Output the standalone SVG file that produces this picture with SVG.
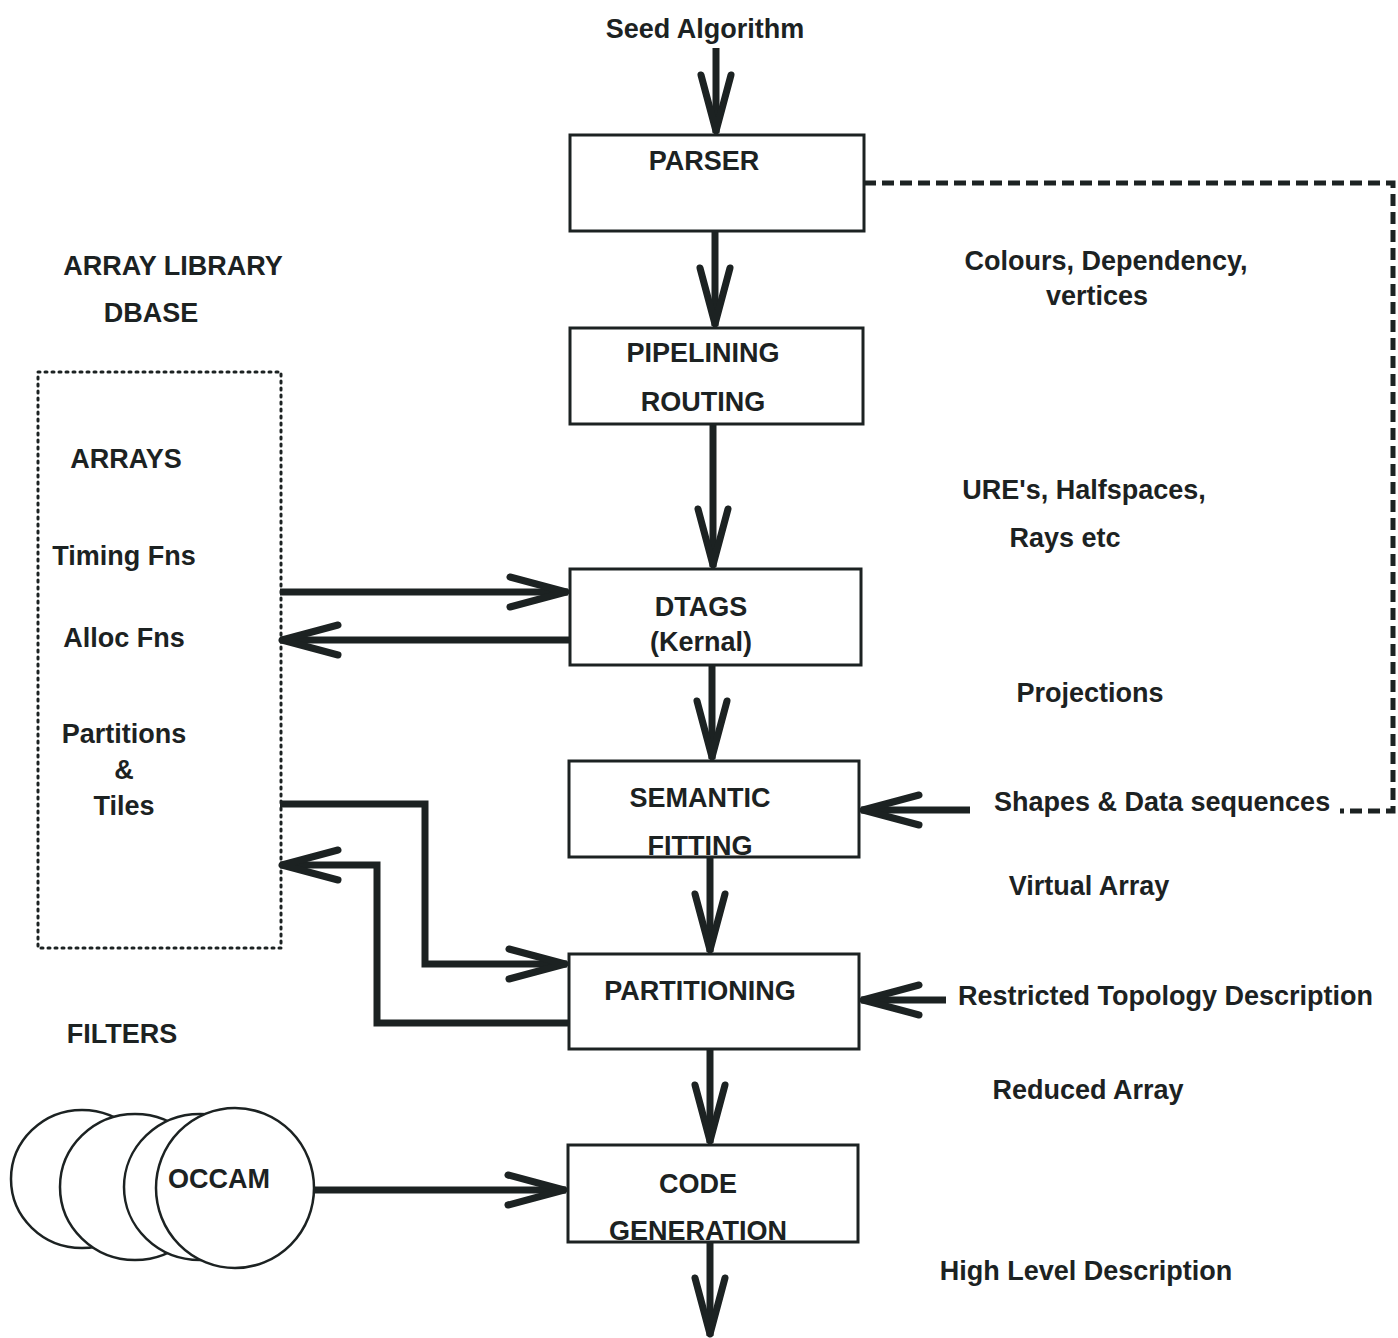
<svg xmlns="http://www.w3.org/2000/svg" width="1398" height="1338" viewBox="0 0 1398 1338">
<style>
text{font-family:"Liberation Sans",Arial,sans-serif;font-weight:bold;font-size:27px;fill:#1c2222;text-anchor:middle}
.box{fill:#fff;stroke:#1c2222;stroke-width:3}
.conn{fill:none;stroke:#1c2222;stroke-width:7;stroke-linejoin:miter}
.dash{fill:none;stroke:#1c2222;stroke-width:5;stroke-dasharray:12 6}
.dot{fill:none;stroke:#1c2222;stroke-width:3;stroke-dasharray:2 5;stroke-linecap:round}
.circ{fill:#fff;stroke:#1c2222;stroke-width:2.5}
</style>
<defs>
<marker id="ah" markerUnits="userSpaceOnUse" markerWidth="90" markerHeight="50" viewBox="-70 -25 80 50" refX="0" refY="0" orient="auto" overflow="visible">
<path d="M-58,-15 L-2,0 L-58,15" fill="none" stroke="#1c2222" stroke-width="7" stroke-linecap="round" stroke-linejoin="round"/>
</marker>
</defs>
<rect width="1398" height="1338" fill="#fff"/>

<g id="connectors">
<line class="conn" x1="716" y1="48" x2="716" y2="133" marker-end="url(#ah)"/>
<line class="conn" x1="715" y1="231" x2="715" y2="326" marker-end="url(#ah)"/>
<line class="conn" x1="713" y1="424" x2="713" y2="567" marker-end="url(#ah)"/>
<line class="conn" x1="712" y1="665" x2="712" y2="759" marker-end="url(#ah)"/>
<line class="conn" x1="710" y1="857" x2="710" y2="952" marker-end="url(#ah)"/>
<line class="conn" x1="710" y1="1049" x2="710" y2="1143" marker-end="url(#ah)"/>
<line class="conn" x1="710" y1="1242" x2="710" y2="1336" marker-end="url(#ah)"/>
<line class="conn" x1="280" y1="592" x2="568" y2="592" marker-end="url(#ah)"/>
<line class="conn" x1="570" y1="640" x2="280" y2="640" marker-end="url(#ah)"/>
<polyline class="conn" points="280,804 425,804 425,964 567,964" marker-end="url(#ah)"/>
<polyline class="conn" points="569,1023 377,1023 377,865 280,865" marker-end="url(#ah)"/>
<line class="conn" x1="314" y1="1190" x2="566" y2="1190" marker-end="url(#ah)"/>
<line class="conn" x1="970" y1="810" x2="861" y2="810" marker-end="url(#ah)"/>
<line class="conn" x1="946" y1="1000" x2="861" y2="1000" marker-end="url(#ah)"/>
<polyline class="dash" points="864,183 1393,183 1393,811 1340,811"/>
</g>

<g id="seed"><text x="705" y="38">Seed Algorithm</text></g>
<g id="parser"><rect class="box" x="570" y="135" width="294" height="96"/><text x="704" y="170">PARSER</text></g>
<g id="pipelining"><rect class="box" x="570" y="328" width="293" height="96"/><text x="703" y="362">PIPELINING</text><text x="703" y="411">ROUTING</text></g>
<g id="dtags"><rect class="box" x="570" y="569" width="291" height="96"/><text x="701" y="616">DTAGS</text><text x="701" y="651">(Kernal)</text></g>
<g id="semantic"><rect class="box" x="569" y="761" width="290" height="96"/><text x="700" y="807">SEMANTIC</text><text x="700" y="855">FITTING</text></g>
<g id="partitioning"><rect class="box" x="569" y="954" width="290" height="95"/><text x="700" y="1000">PARTITIONING</text></g>
<g id="codegen"><rect class="box" x="568" y="1145" width="290" height="97"/><text x="698" y="1193">CODE</text><text x="698" y="1240">GENERATION</text></g>

<g id="library">
<text x="173" y="275">ARRAY LIBRARY</text>
<text x="151" y="322">DBASE</text>
<rect class="dot" x="38" y="372" width="243" height="576"/>
<text x="126" y="468">ARRAYS</text>
<text x="124" y="565">Timing Fns</text>
<text x="124" y="647">Alloc Fns</text>
<text x="124" y="743">Partitions</text>
<text x="124" y="779">&amp;</text>
<text x="124" y="815">Tiles</text>
</g>

<g id="filters">
<text x="122" y="1043">FILTERS</text>
<ellipse class="circ" cx="82" cy="1179" rx="71" ry="69"/>
<ellipse class="circ" cx="135" cy="1187" rx="75" ry="73"/>
<ellipse class="circ" cx="200" cy="1187" rx="76" ry="73"/>
<ellipse class="circ" cx="235" cy="1188" rx="79" ry="80"/>
<text x="219" y="1188">OCCAM</text>
</g>

<g id="labels">
<text x="1106" y="270">Colours, Dependency,</text>
<text x="1097" y="305">vertices</text>
<text x="1084" y="499">URE's, Halfspaces,</text>
<text x="1065" y="547">Rays etc</text>
<text x="1090" y="702">Projections</text>
<text x="994" y="811" style="text-anchor:start">Shapes &amp; Data sequences</text>
<text x="1089" y="895">Virtual Array</text>
<text x="958" y="1005" style="text-anchor:start">Restricted Topology Description</text>
<text x="1088" y="1099">Reduced Array</text>
<text x="1086" y="1280">High Level Description</text>
</g>
</svg>
